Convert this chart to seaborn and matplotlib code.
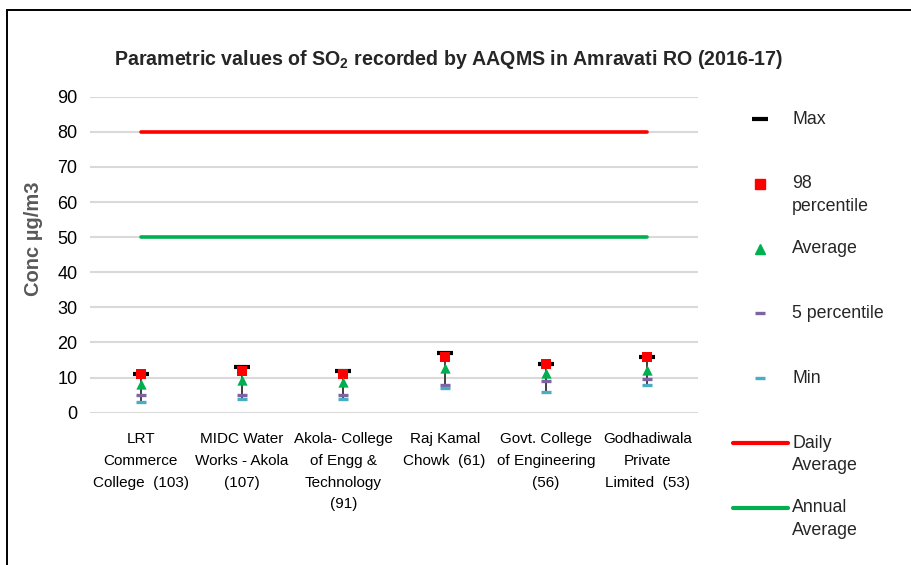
import pandas as pd
import seaborn as sns
import matplotlib.pyplot as plt
from matplotlib.lines import Line2D
from matplotlib.patches import Rectangle

# station names as printed under the axis
stations = [
    "LRT\nCommerce\nCollege  (103)",
    "MIDC Water\nWorks - Akola\n(107)",
    "Akola- College\nof Engg &\nTechnology\n(91)",
    "Raj Kamal\nChowk  (61)",
    "Govt. College\nof Engineering\n(56)",
    "Godhadiwala\nPrivate\nLimited  (53)",
]

# SO2 values (µg/m3)
max_vals = [11, 13, 12, 17, 14, 16]
p98_vals = [11, 12, 11, 16, 14, 16]
avg_vals = [8.2, 9.3, 8.8, 12.8, 11.4, 12.2]
p5_vals = [5, 5, 5, 8, 9, 9.5]
min_vals = [3, 4, 4, 7, 6, 8]

# standards
daily_limit = [80] * len(stations)
annual_limit = [50] * len(stations)

sns.set_style("white")
plt.rcParams['font.family'] = ['Liberation Sans', 'DejaVu Sans']
plt.rcParams['mathtext.fontset'] = 'custom'
plt.rcParams['mathtext.bf'] = 'Liberation Sans:bold'
plt.rcParams['mathtext.rm'] = 'Liberation Sans'

W, H = 911, 565
fig = plt.figure(figsize=(W / 100, H / 100), dpi=100)
ax = fig.add_axes([90 / W, 1 - 412.7 / H, 608 / W, 316 / H])

df = pd.DataFrame({
    "station": stations,
    "Max": max_vals,
    "98 percentile": p98_vals,
    "Average": avg_vals,
    "5 percentile": p5_vals,
    "Min": min_vals,
    "Daily Average": daily_limit,
    "Annual Average": annual_limit,
})

# limit lines
sns.lineplot(data=df, x="station", y="Daily Average", color="#FF0000", lw=2.6, ax=ax, sort=False)
sns.lineplot(data=df, x="station", y="Annual Average", color="#00B050", lw=2.6, ax=ax, sort=False)

# high-low lines
ax.vlines(range(len(stations)), df["Min"], df["Max"], color="#404040", lw=1.4, zorder=3)

styles = [
    ("Max", "_", "black", 120, 3.0),
    ("98 percentile", "s", "#FF0000", 45, 0),
    ("Average", "^", "#00B050", 55, 0),
    ("5 percentile", "_", "#8064A2", 55, 2.4),
    ("Min", "_", "#4BACC6", 55, 2.4),
]
for col, mk, c, s, lw in styles:
    if mk == "_":
        sns.scatterplot(data=df, x="station", y=col, marker=mk, color=c, s=s,
                        linewidth=lw, ax=ax, zorder=4)
    else:
        sns.scatterplot(data=df, x="station", y=col, marker=mk, color=c, s=s,
                        linewidth=0, ax=ax, zorder=5)

ax.set_xlim(-0.5, len(stations) - 0.5)
ax.set_ylim(0, 90)
ax.set_yticks(range(0, 91, 10))
ax.yaxis.grid(True, color="#D9D9D9", lw=1.5)
ax.set_axisbelow(True)
sns.despine(ax=ax, left=True, bottom=True)
ax.tick_params(axis="y", length=0, labelsize=13, colors="black", pad=9)
ax.tick_params(axis="x", length=0, labelsize=11, colors="black", pad=14)
for t in ax.get_xticklabels():
    t.set_linespacing(1.7)
ax.set_xlabel("")
ax.set_ylabel("Conc µg/m3", fontsize=14.5, fontweight="bold", color="#595959")
ax.yaxis.set_label_coords(-0.077, 0.55)

fig.text(449 / W, 1 - 60 / H,
         "Parametric values of SO$_\\mathbf{2}$ recorded by AAQMS in Amravati RO (2016-17)",
         ha="center", va="center", fontsize=14.1, fontweight="bold")

# legend, drawn by hand to keep the spacing of the original
legend_rows = [
    ("Max", dict(marker="_", color="black", markersize=11, markeredgewidth=3, ls="none")),
    ("98\npercentile", dict(marker="s", color="#FF0000", markersize=7, ls="none")),
    ("Average", dict(marker="^", color="#00B050", markersize=7.5, ls="none")),
    ("5 percentile", dict(marker="_", color="#8064A2", markersize=7, markeredgewidth=2.4, ls="none")),
    ("Min", dict(marker="_", color="#4BACC6", markersize=7, markeredgewidth=2.4, ls="none")),
    ("Daily\nAverage", dict(color="#FF0000", lw=3)),
    ("Annual\nAverage", dict(color="#00B050", lw=3)),
]
for i, (label, kw) in enumerate(legend_rows):
    y = 119 + i * 64.8
    if "marker" in kw:
        xs = [760 / W]
    else:
        xs = [733 / W, 788 / W]
    fig.add_artist(Line2D(xs, [1 - y / H] * len(xs), transform=fig.transFigure, **kw))
    for j, line in enumerate(label.split("\n")):
        fig.text(792 / W, 1 - (y + j * 23) / H, line, ha="left", va="center", fontsize=12.8)

# chart frame (cropped on the right and bottom)
fig.add_artist(Rectangle((7 / W, -0.2), 1.5, (H - 10) / H + 0.2, transform=fig.transFigure,
                         fill=False, ec="black", lw=1.4, clip_on=False))

fig.savefig("out.png", dpi=100)
